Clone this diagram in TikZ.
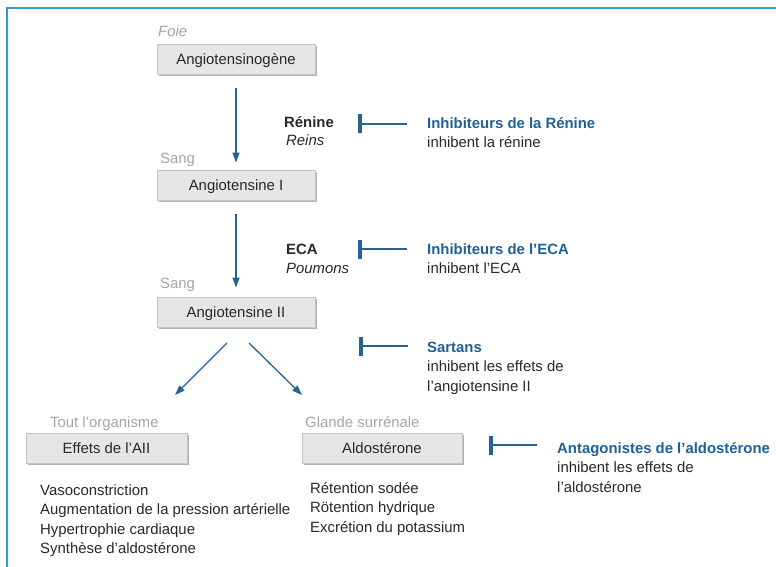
\documentclass[tikz,border=0pt]{standalone}
\usepackage{fontspec}
\setmainfont{Liberation Sans}
\usetikzlibrary{arrows.meta,shadows}

\definecolor{frameblue}{RGB}{45,152,212}
\definecolor{flowblue}{RGB}{38,98,148}
\definecolor{titleblue}{RGB}{32,96,150}
\definecolor{placegray}{RGB}{165,165,165}
\definecolor{textgray}{RGB}{40,40,40}
\definecolor{boxfill}{RGB}{230,230,230}
\definecolor{boxline}{RGB}{196,196,196}

\tikzset{
  txt/.style={inner sep=0pt, anchor=base west, text=textgray, font=\fontsize{14.9}{19.5}\selectfont},
  place/.style={txt, text=placegray},
  molecule/.style={draw=boxline, fill=boxfill, line width=0.8pt, minimum width=158pt,
    minimum height=30pt, inner sep=0pt, text height=10.7pt, text depth=0pt,
    text=textgray, font=\fontsize{14.9}{18}\selectfont,
    drop shadow={shadow xshift=2pt, shadow yshift=-2pt, fill=black, opacity=0.3}},
  flow/.style={draw=flowblue, line width=1.3pt, -{Triangle[length=10pt,width=7pt]}},
  block/.style={draw=flowblue, line width=1.6pt, {Bar[width=19pt,line width=4pt]}-},
  drug/.style={txt, align=left},
}

\begin{document}
\begin{tikzpicture}[x=1pt,y=-1pt]
  \useasboundingbox (0,0) rectangle (776,567);
  \draw[frameblue, line width=2pt] (6.5,567) -- (6.5,8.5) -- (776,8.5);

  \node[place, font=\fontsize{14.9}{18}\itshape] (foie) at (158,37) {Foie};
  \node[molecule] (ango) at (236,59) {Angiotensinogène};
  \node[place] (sang1) at (160,163) {Sang};
  \node[molecule] (ang1) at (236,185) {Angiotensine I};
  \node[place] (sang2) at (160,288) {Sang};
  \node[molecule] (ang2) at (236,312) {Angiotensine II};
  \node[place] (tout) at (50,427) {Tout l'organisme};
  \node[molecule, minimum width=161pt] (effets) at (106.5,448) {Effets de l'AII};
  \node[place] (glande) at (305,427) {Glande surrénale};
  \node[molecule, minimum width=160pt] (aldo) at (382,448) {Aldostérone};

  \node[txt, font=\fontsize{14.9}{18}\bfseries] (renine) at (284,128) {Rénine};
  \node[txt, font=\fontsize{14.9}{18}\itshape] (reins) at (286,146) {Reins};
  \node[txt, font=\fontsize{14.9}{18}\bfseries] (eca) at (286,254) {ECA};
  \node[txt, font=\fontsize{14.9}{18}\itshape] (poumons) at (286,273) {Poumons};

  \node[drug] (inhren) at (427,147.5) {\textcolor{titleblue}{\bfseries Inhibiteurs de la Rénine}\\inhibent la rénine};
  \node[drug] (inheca) at (427,273.5) {\textcolor{titleblue}{\bfseries Inhibiteurs de l'ECA}\\inhibent l'ECA};
  \node[drug] (sartans) at (427,391) {\textcolor{titleblue}{\bfseries Sartans}\\inhibent les effets de\\l'angiotensine II};
  \node[drug] (antago) at (557,492) {\textcolor{titleblue}{\bfseries Antagonistes de l'aldostérone}\\inhibent les effets de\\l'aldostérone};

  \node[drug] (effetsl) at (40,553.5) {Vasoconstriction\\Augmentation de la pression artérielle\\Hypertrophie cardiaque\\Synthèse d'aldostérone};
  \node[drug] (aldol) at (310,532) {Rétention sodée\\Rötention hydrique\\Excrétion du potassium};

  \coordinate (d1a) at (227,343);
  \coordinate (d1b) at (175,395);
  \coordinate (d2a) at (249,343);
  \coordinate (d2b) at (302,395);
  \coordinate (t1a) at (358,124);
  \coordinate (t1b) at (407,124);
  \coordinate (t2a) at (358,249);
  \coordinate (t2b) at (407,249);
  \coordinate (t3a) at (359,346);
  \coordinate (t3b) at (408,346);
  \coordinate (t4a) at (489,445);
  \coordinate (t4b) at (537,445);

  \draw[flow, shorten <=14pt, shorten >=7pt] (ango) -- (ang1);
  \draw[flow, shorten <=14pt, shorten >=9pt] (ang1) -- (ang2);
  \draw[flow] (d1a) -- (d1b);
  \draw[flow] (d2a) -- (d2b);
  \draw[block] (t1a) -- (t1b);
  \draw[block] (t2a) -- (t2b);
  \draw[block] (t3a) -- (t3b);
  \draw[block] (t4a) -- (t4b);
\end{tikzpicture}
\end{document}
